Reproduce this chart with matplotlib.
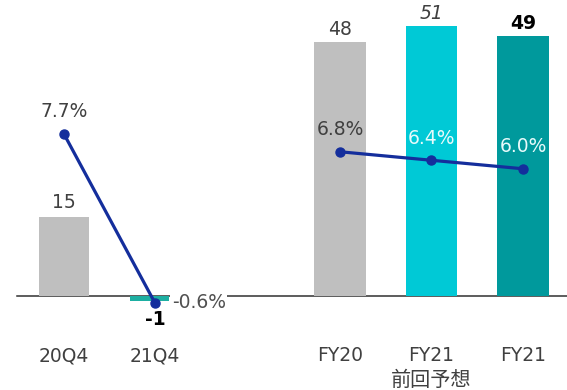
import matplotlib
matplotlib.use("Agg")
import matplotlib.pyplot as plt

plt.rcParams['font.family'] = ['DejaVu Sans', 'Noto Sans CJK JP']

# quarterly panel
q_labels = ["20Q4", "21Q4"]
q_profit = [15, -1]
q_margin = [7.7, -0.6]

# full-year panel
fy_labels = ["FY20", "FY21\n前回予想", "FY21"]
fy_profit = [48, 51, 49]
fy_margin = [6.8, 6.4, 6.0]

W, H = 567, 390
fig = plt.figure(figsize=(W / 100, H / 100), dpi=100)

def px_axes(x0, x1, y0, y1):
    return fig.add_axes([x0 / W, 1 - y1 / H, (x1 - x0) / W, (y1 - y0) / H])

txt = '#404040'
line_c = '#142E9C'
fs = 13.5

# ---- left: quarters ----
axl = px_axes(0, 228, 0, 340)
axl.set_xlim(-0.703, 1.802)
axl.set_ylim(-8.30, 55.85)
axl.set_axis_off()
axl.axhline(0, xmin=0.075, xmax=1, color='#303030', lw=1.1, zorder=1)
q_colors = ['#BFBFBF', '#1DAFA2']
q_width = [0.55, 0.42]
q_shift = [0, -0.06]
xs = [i + s for i, s in enumerate(q_shift)]
axl.bar(xs, q_profit, width=q_width, color=q_colors, zorder=2)
axl.annotate(str(q_profit[0]), (0, q_profit[0]), xytext=(0, 10),
             textcoords='offset points', ha='center', va='center',
             fontsize=fs, color=txt)
axl.annotate(str(q_profit[1]), (1, q_profit[1]), xytext=(0, -13),
             textcoords='offset points', ha='center', va='center',
             fontsize=fs, fontweight='bold', color='black')
for i, lab in enumerate(q_labels):
    axl.annotate(lab, (i, 0), xytext=(0, -43), textcoords='offset points',
                 ha='center', va='center', fontsize=fs, color=txt)

axl2 = axl.twinx()
axl2.set_ylim(-2.416, 14.28)
axl2.set_axis_off()
axl2.plot(range(len(q_margin)), q_margin, color=line_c, lw=2.3,
          marker='o', ms=6.5, zorder=5)
axl2.annotate(f"{q_margin[0]}%", (0, q_margin[0]), xytext=(0, 16),
              textcoords='offset points', ha='center', va='center',
              fontsize=fs, color=txt)
axl2.annotate(f"{q_margin[1]}%", (1, q_margin[1]), xytext=(12, 0.5),
              textcoords='offset points', ha='left', va='center',
              fontsize=fs, color='#505050',
              bbox=dict(facecolor='white', edgecolor='none', pad=1))

# ---- right: full year ----
axr = px_axes(228, 567, 0, 340)
axr.set_xlim(-1.224, 2.481)
axr.set_ylim(-8.30, 55.85)
axr.set_axis_off()
axr.axhline(0, color='#303030', lw=1.1, zorder=1)
fy_colors = ['#BFBFBF', '#00C9D6', '#00999C']
axr.bar(range(3), fy_profit, width=0.56, color=fy_colors, zorder=2)
styles = [dict(), dict(fontstyle='italic'), dict(fontweight='bold', color='black')]
for i, (v, st) in enumerate(zip(fy_profit, styles)):
    kw = dict(fontsize=fs, color=txt)
    kw.update(st)
    axr.annotate(str(v), (i, v), xytext=(0, 9), textcoords='offset points',
                 ha='center', va='center', **kw)
for i, lab in enumerate(fy_labels):
    parts = lab.split("\n")
    axr.annotate(parts[0], (i, 0), xytext=(0, -43), textcoords='offset points',
                 ha='center', va='center', fontsize=fs, color=txt)
    if len(parts) > 1:
        axr.annotate(parts[1], (i, 0), xytext=(0, -61), textcoords='offset points',
                     ha='center', va='center', fontsize=14.5, color=txt,
                     family=['Noto Sans CJK JP', 'DejaVu Sans'])

axr2 = axr.twinx()
axr2.set_ylim(-2.056, 13.94)
axr2.set_axis_off()
axr2.plot(range(3), fy_margin, color=line_c, lw=2.3, marker='o', ms=6.5, zorder=5)
m_colors = [txt, '#E8FAFB', '#E8FAFB']
for i, (v, c) in enumerate(zip(fy_margin, m_colors)):
    axr2.annotate(f"{v:.1f}%", (i, v), xytext=(0, 16), textcoords='offset points',
                  ha='center', va='center', fontsize=fs, color=c)

fig.savefig("out.png", dpi=100)
